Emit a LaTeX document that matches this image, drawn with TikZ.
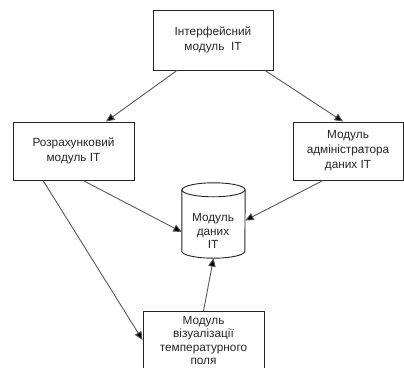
\documentclass[tikz,border=0pt]{standalone}
\usepackage{fontspec}
\setmainfont{Liberation Sans}
\usetikzlibrary{arrows.meta,calc}
\begin{document}
\begin{tikzpicture}[x=1pt,y=-1pt,
  box/.style={draw=black!85, line width=0.9pt, fill=white, inner sep=0pt, align=center,
    font=\fontsize{11.8}{15}\selectfont, text=black!85},
  txt/.style={inner sep=0pt, align=center, font=\fontsize{11.8}{13.5}\selectfont, text=black!85},
  conn/.style={draw=black!65, line width=0.9pt, -{Triangle[length=8.5pt,width=7.5pt,fill=black]}}]
\clip (0,0) rectangle (404,367);
\fill[white] (0,0) rectangle (404,367);

\node[box, minimum width=120pt, minimum height=60pt] (top) at (213,40) {Інтерфейсний\\модуль\ \ IT};
\node[box, minimum width=121pt, minimum height=58pt] (left) at (73.5,151) {Розрахунковий\\модуль IT};
\node[box, minimum width=110pt, minimum height=58pt] (right) at (348,151) {Модуль\\адміністратора\\даних IT};
\node[box, minimum width=121pt, minimum height=70pt, anchor=north] (bottom) at (203.5,311) {};
\node[txt, anchor=north] (btext) at (bottom.north) [yshift=-5pt] {Модуль\\візуалізації\\температурного\\поля};

% cylinder
\node[minimum width=63pt, minimum height=75pt, inner sep=0pt] (cyl) at (213.5,220.5) {};
\draw[draw=black!85, line width=0.9pt, fill=white]
  ([yshift=-7pt]cyl.north west) -- ([yshift=7pt]cyl.south west)
  arc[start angle=180, end angle=360, x radius=31.5pt, y radius=7pt]
  -- ([yshift=-7pt]cyl.north east)
  arc[start angle=0, end angle=180, x radius=31.5pt, y radius=7pt] -- cycle;
\draw[draw=black!85, line width=0.9pt]
  ([yshift=-7pt]cyl.north west) arc[start angle=180, end angle=360, x radius=31.5pt, y radius=7pt];
\node[txt] (ctext) at (213,231) {Модуль\\даних\\IT};

% connectors
\draw[conn] ([xshift=-36pt]top.south) -- ([xshift=32.5pt]left.north);
\draw[conn] ([xshift=52pt]top.south) -- ([xshift=-5pt]right.north);
\draw[conn] ([xshift=9.5pt]left.south) -- ([yshift=-11.5pt]cyl.west);
\draw[conn] ([xshift=-25pt]right.south) -- (cyl.east);
\draw[conn] ([xshift=-30.5pt]left.south) -- ([yshift=-29pt]bottom.north west);
\draw[conn] (bottom.north) -- (cyl.south);
\end{tikzpicture}
\end{document}
